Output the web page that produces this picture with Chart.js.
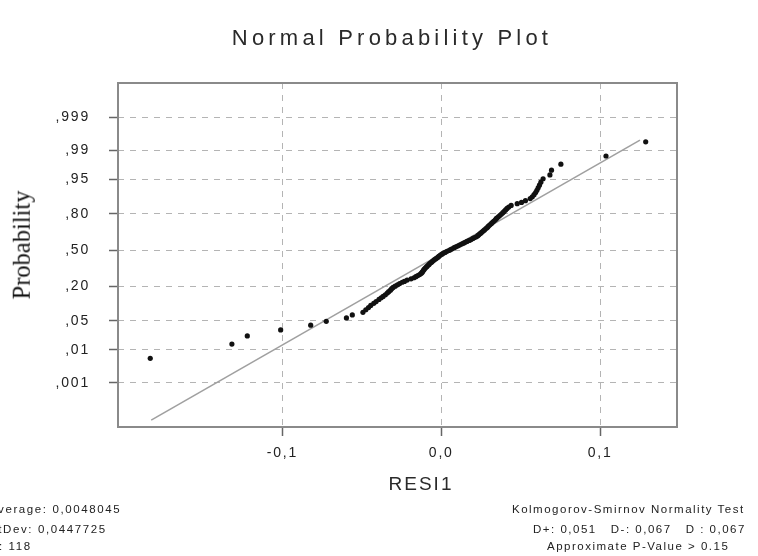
<!DOCTYPE html>
<html>
<head>
<meta charset="utf-8">
<title>Normal Probability Plot</title>
<script src="https://cdn.jsdelivr.net/npm/chart.js@4.4.1/dist/chart.umd.min.js"></script>
<style>
  html, body { margin: 0; padding: 0; background: #fff; overflow: hidden; }
  #wrap { position: relative; width: 758px; height: 556px; overflow: hidden; }
  #chart { position: absolute; left: 0; top: 0; }
  .txt { position: absolute; white-space: nowrap; line-height: 1; color: #222;
         font-family: "Liberation Sans", Arial, sans-serif; }
  #title { left: 392px; top: 38px; font-size: 22px; letter-spacing: 4.2px; color: #2a2a2a;
           transform: translate(-50%, -50%); }
  #xtitle { left: 421px; top: 483px; font-size: 19px; letter-spacing: 2px; color: #2a2a2a;
            transform: translate(-50%, -50%); }
  #ytitle { left: 22px; top: 245px; font-size: 24.5px; color: #111;
            font-family: "Liberation Serif", "Times New Roman", serif;
            transform: translate(-50%, -50%) rotate(-90deg); }
  .foot { font-size: 11.5px; letter-spacing: 1.6px; }
</style>
</head>
<body>
<div id="wrap">
  <canvas id="chart" width="758" height="556"></canvas>
  <div class="txt" id="title">Normal Probability Plot</div>
  <div class="txt" id="xtitle">RESI1</div>
  <div class="txt" id="ytitle">Probability</div>
  <div class="txt foot" style="left:-11px; top:504px;">Average: 0,0048045</div>
  <div class="txt foot" style="left:-11px; top:524px;">StDev: 0,0447725</div>
  <div class="txt foot" style="left:-11px; top:541px;">N: 118</div>
  <div class="txt foot" style="left:512px; top:504px; letter-spacing:1.5px;">Kolmogorov-Smirnov Normality Test</div>
  <div class="txt foot" style="left:533px; top:524px; letter-spacing:1.5px;">D+: 0,051&nbsp;&nbsp; D-: 0,067&nbsp;&nbsp; D : 0,067</div>
  <div class="txt foot" style="left:547px; top:541px; letter-spacing:1.5px;">Approximate P-Value &gt; 0.15</div>
</div>
<script>
// residuals, sorted
const residuals = [
  -0.1832, -0.1318, -0.1221, -0.1011, -0.0822, -0.0724, -0.0597, -0.0560, -0.0493, -0.0475,
  -0.0458, -0.0444, -0.0425, -0.0410, -0.0392, -0.0378, -0.0366, -0.0352, -0.0340, -0.0331,
  -0.0320, -0.0312, -0.0303, -0.0290, -0.0276, -0.0262, -0.0246, -0.0232, -0.0215, -0.0190,
  -0.0172, -0.0160, -0.0148, -0.0136, -0.0127, -0.0121, -0.0117, -0.0112, -0.0108, -0.0102,
  -0.0096, -0.0090, -0.0083, -0.0077, -0.0071, -0.0064, -0.0058, -0.0050, -0.0043, -0.0034,
  -0.0026, -0.0019, -0.0013, -0.0005, 0.0004, 0.0013, 0.0024, 0.0036, 0.0048, 0.0058,
  0.0068, 0.0081, 0.0092, 0.0103, 0.0115, 0.0128, 0.0140, 0.0151, 0.0162, 0.0176,
  0.0188, 0.0199, 0.0210, 0.0221, 0.0230, 0.0236, 0.0243, 0.0250, 0.0258, 0.0265,
  0.0272, 0.0281, 0.0288, 0.0294, 0.0301, 0.0308, 0.0316, 0.0323, 0.0330, 0.0339,
  0.0346, 0.0352, 0.0361, 0.0370, 0.0379, 0.0388, 0.0396, 0.0405, 0.0414, 0.0425,
  0.0440, 0.0478, 0.0505, 0.0530, 0.0560, 0.0573, 0.0584, 0.0594, 0.0602, 0.0610,
  0.0618, 0.0627, 0.0641, 0.0684, 0.0694, 0.0753, 0.1037, 0.1287
];
// normal scores (probability axis, in z units)
const normScores = [
  -2.52, -2.19, -2.00, -1.86, -1.75, -1.66, -1.58, -1.51, -1.45, -1.39,
  -1.34, -1.29, -1.24, -1.20, -1.15, -1.11, -1.08, -1.04, -1.00, -0.97,
  -0.935, -0.90, -0.87, -0.84, -0.81, -0.78, -0.75, -0.73, -0.70, -0.67,
  -0.645, -0.62, -0.595, -0.57, -0.545, -0.52, -0.50, -0.47, -0.45, -0.425,
  -0.40, -0.38, -0.355, -0.335, -0.31, -0.29, -0.27, -0.245, -0.225, -0.20,
  -0.18, -0.16, -0.14, -0.115, -0.095, -0.075, -0.055, -0.03, -0.01, 0.01,
  0.03, 0.055, 0.075, 0.095, 0.115, 0.14, 0.16, 0.18, 0.20, 0.225,
  0.245, 0.27, 0.29, 0.31, 0.335, 0.355, 0.38, 0.40, 0.425, 0.45,
  0.47, 0.50, 0.52, 0.545, 0.57, 0.595, 0.62, 0.645, 0.67, 0.70,
  0.73, 0.75, 0.78, 0.81, 0.84, 0.87, 0.90, 0.935, 0.97, 1.00,
  1.04, 1.08, 1.11, 1.15, 1.20, 1.24, 1.29, 1.34, 1.39, 1.45,
  1.51, 1.58, 1.66, 1.75, 1.86, 2.00, 2.19, 2.52
];
// fitted line end points
const fitX = [-0.1826, 0.1251];
const fitZ = [-3.96, 2.56];

// probability ticks (z position + label)
const probTicks = [3.09, 2.326, 1.645, 0.842, 0, -0.842, -1.645, -2.326, -3.09];
const probLabels = [',999', ',99', ',95', ',80', ',50', ',20', ',05', ',01', ',001'];
const xTicks = [-0.1, 0, 0.1];
const xLabels = ['-0,1', '0,0', '0,1'];

const points = residuals.map((r, i) => ({ x: r, y: normScores[i] }));
const fitLine = fitX.map((v, i) => ({ x: v, y: fitZ[i] }));

const tickFont = { family: '"Liberation Sans", Arial, sans-serif', size: 14 };

// letter spacing on the canvas text + plot frame
const extras = {
  id: 'extras',
  beforeDraw(chart) { chart.ctx.letterSpacing = '1.8px'; },
  afterDraw(chart) {
    const { ctx, chartArea: a } = chart;
    ctx.save();
    ctx.letterSpacing = '0px';
    ctx.strokeStyle = '#8a8a8a';
    ctx.lineWidth = 2;
    ctx.setLineDash([]);
    ctx.strokeRect(a.left, a.top, a.right - a.left, a.bottom - a.top);
    ctx.restore();
  }
};

new Chart(document.getElementById('chart'), {
  type: 'scatter',
  data: {
    datasets: [
      {
        label: 'fit',
        data: fitLine,
        showLine: true,
        borderColor: '#a0a0a0',
        borderWidth: 1.6,
        pointRadius: 0,
        order: 2
      },
      {
        label: 'RESI1',
        data: points,
        pointRadius: 2.6,
        pointBackgroundColor: '#111',
        pointBorderWidth: 0,
        order: 1
      }
    ]
  },
  options: {
    responsive: false,
    animation: false,
    layout: { padding: { left: 0, right: 81, top: 83, bottom: 0 } },
    plugins: { legend: { display: false }, tooltip: { enabled: false } },
    scales: {
      x: {
        type: 'linear',
        min: -0.2035,
        max: 0.1484,
        afterBuildTicks: s => { s.ticks = xTicks.map(v => ({ value: v })); },
        afterFit: s => { s.height = 129; },
        ticks: {
          autoSkip: false,
          maxRotation: 0,
          padding: 9,
          color: '#222',
          font: tickFont,
          callback: (v, i) => xLabels[i]
        },
        grid: { color: '#b4b4b4', lineWidth: 1, tickLength: 9, tickColor: '#666', tickWidth: 1.5 },
        border: { display: false, dash: [6, 6] }
      },
      y: {
        type: 'linear',
        min: -4.12,
        max: 3.89,
        afterBuildTicks: s => { s.ticks = probTicks.map(v => ({ value: v })); },
        afterFit: s => { s.width = 118; },
        ticks: {
          autoSkip: false,
          padding: 19,
          color: '#222',
          font: tickFont,
          callback: (v, i) => probLabels[i]
        },
        grid: { color: '#b4b4b4', lineWidth: 1, tickLength: 9, tickColor: '#666', tickWidth: 1.5 },
        border: { display: false, dash: [6, 6] }
      }
    }
  },
  plugins: [extras]
});
</script>
</body>
</html>
